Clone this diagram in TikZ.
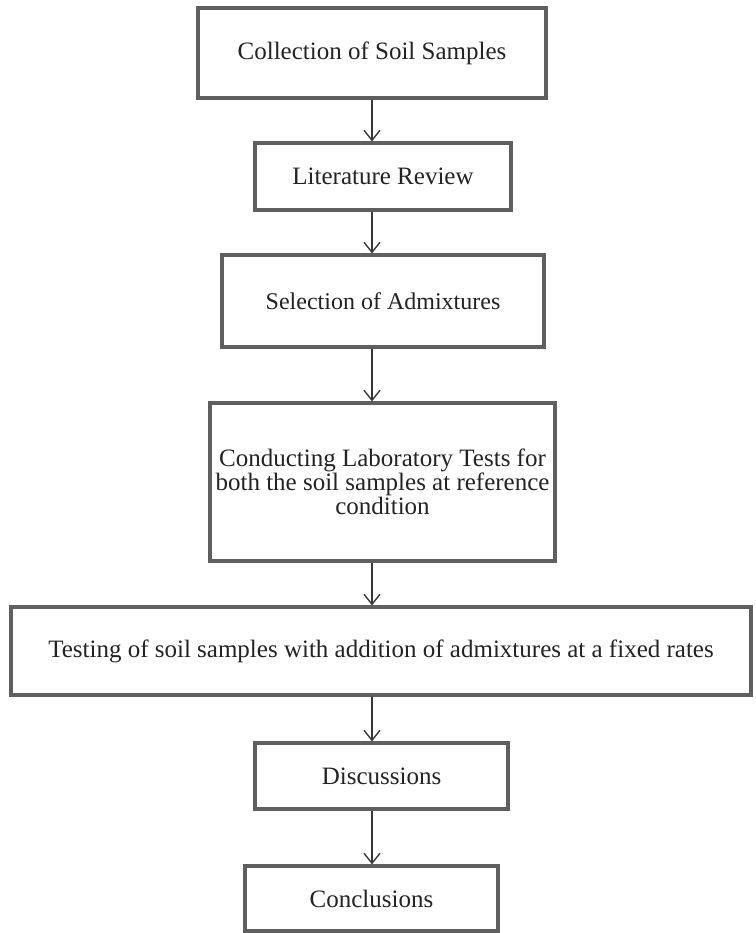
\documentclass[tikz,border=0pt]{standalone}
\usepackage{fontspec}
\setmainfont{Liberation Serif}
\usetikzlibrary{arrows.meta}
\definecolor{boxline}{RGB}{95,95,95}
\definecolor{arrline}{RGB}{55,55,55}
\definecolor{txt}{RGB}{35,35,35}
\begin{document}
\begin{tikzpicture}[x=1pt,y=-1pt,
  stepbox/.style={draw=boxline, line width=3.2pt, fill=white, inner sep=0pt,
    align=center, text=txt, font=\fontsize{25}{22}\selectfont},
  flow/.style={draw=arrline, line width=1.4pt,
    -{Straight Barb[length=10pt,width=16pt,line width=1.4pt]}}]
\useasboundingbox (0,0) rectangle (755,933);
\node[stepbox, minimum width=348pt, minimum height=90pt] (b1) at (372,53) {Collection of Soil Samples};
\node[stepbox, minimum width=256pt, minimum height=67pt] (b2) at (383,176.5) {Literature Review};
\node[stepbox, minimum width=322pt, minimum height=92pt, font=\fontsize{24}{22}\selectfont] (b3) at (383,301) {Selection of Admixtures};
\node[stepbox, minimum width=345pt, minimum height=158pt] (b4) at (382.5,482) {Conducting Laboratory Tests for\\both the soil samples at reference\\condition};
\node[stepbox, minimum width=740pt, minimum height=88pt] (b5) at (381,651) {Testing of soil samples with addition of admixtures at a fixed rates};
\node[stepbox, minimum width=253pt, minimum height=66pt] (b6) at (381.5,776) {Discussions};
\node[stepbox, minimum width=253pt, minimum height=65pt] (b7) at (371.5,898.5) {Conclusions};
\coordinate (ax) at (372,0);
\draw[flow] (ax |- b1.south) -- (ax |- b2.north);
\draw[flow] (ax |- b2.south) -- (ax |- b3.north);
\draw[flow] (ax |- b3.south) -- (ax |- b4.north);
\draw[flow] (ax |- b4.south) -- (ax |- b5.north);
\draw[flow] (ax |- b5.south) -- (ax |- b6.north);
\draw[flow] (ax |- b6.south) -- (ax |- b7.north);
\end{tikzpicture}
\end{document}
